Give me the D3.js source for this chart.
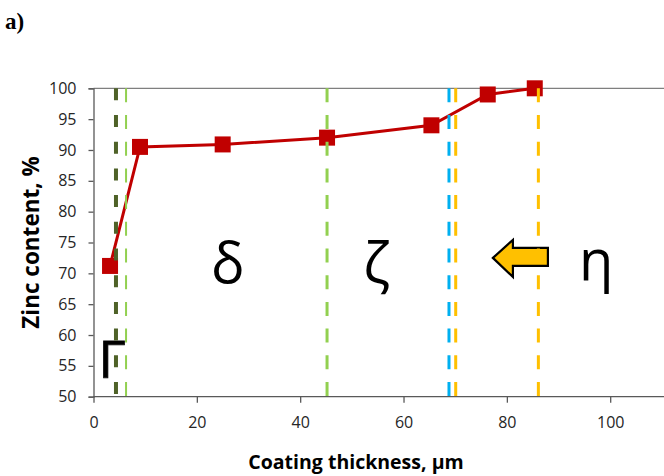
<!DOCTYPE html>
<html><head><meta charset="utf-8">
<script src="https://cdn.jsdelivr.net/npm/d3@7"></script>
<style>
html,body{margin:0;padding:0;background:#fff;}
svg{display:block;}
</style></head>
<body>
<svg id="c" width="664" height="476"></svg>
<script>
// ---- data ----
const thickness = [3.2, 9.0, 25.0, 45.2, 65.4, 76.3, 85.4];
const zinc = [71.2, 90.5, 90.9, 92.0, 94.0, 99.0, 100.0];
const xTicks = [0, 20, 40, 60, 80, 100];
const yTicks = [50, 55, 60, 65, 70, 75, 80, 85, 90, 95, 100];
const boundaryX = [4.35, 6.3, 45.2, 68.8, 70.1, 86.1];
const boundaryColor = ["#4f6228", "#92d050", "#92d050", "#00b0f0", "#ffc000", "#ffc000"];
const boundaryWidth = [4, 2, 3, 3, 3, 3];
const phaseLabels = ["Γ", "δ", "ζ", "η"];
const phaseX = [3.6, 26.0, 54.8, 97.3];
const phaseY = [53.1, 68.4, 68.4, 68.9];

const svg = d3.select("#c");
const x = d3.scaleLinear().domain([0, 100]).range([93.5, 610.2]);
const y = d3.scaleLinear().domain([50, 100]).range([396.7, 88.3]);

// title
svg.append("text").attr("x", 5).attr("y", 29)
  .attr("font-family", "'Liberation Serif', 'Times New Roman', serif")
  .attr("font-weight", "bold").attr("font-size", 23).attr("fill", "#000").text("a)");

// top border
svg.append("line").attr("x1", x(0)).attr("x2", 664).attr("y1", y(100)).attr("y2", y(100))
  .attr("stroke", "#7f7f7f").attr("stroke-width", 1.3);

// y axis
const ya = svg.append("g").attr("transform", `translate(${x(0)},0)`)
  .call(d3.axisLeft(y).tickValues(yTicks).tickSize(5).tickPadding(12));
ya.select(".domain").attr("stroke", "#595959").attr("stroke-width", 1.3);
ya.selectAll(".tick line").attr("stroke", "#595959").attr("stroke-width", 1.3);
ya.selectAll(".tick text").attr("font-family", "'Open Sans', sans-serif")
  .attr("font-size", 16).attr("fill", "#262626");

// x axis
const xa = svg.append("g").attr("transform", `translate(0,${y(50)})`)
  .call(d3.axisBottom(x).tickValues(xTicks).tickSize(6).tickPadding(14).tickSizeOuter(0));
xa.select(".domain").remove();
xa.append("line").attr("x1", x(0)).attr("x2", 664).attr("y1", 0).attr("y2", 0)
  .attr("stroke", "#595959").attr("stroke-width", 1.3);
xa.selectAll(".tick line").attr("stroke", "#595959").attr("stroke-width", 1.3);
xa.selectAll(".tick text").attr("font-family", "'Open Sans', sans-serif")
  .attr("font-size", 16).attr("fill", "#262626");

// axis titles
svg.append("text").attr("transform", `translate(30,${(y(50)+y(100))/2}) rotate(-90)`)
  .attr("text-anchor", "middle").attr("dominant-baseline", "central")
  .attr("font-family", "'Open Sans', sans-serif").attr("font-weight", "bold")
  .attr("font-size", 22.5).attr("fill", "#000").text("Zinc content, %");
svg.append("text").attr("x", 356).attr("y", 469).attr("text-anchor", "middle")
  .attr("font-family", "'Open Sans', sans-serif").attr("font-weight", "bold")
  .attr("font-size", 19.5).attr("fill", "#000").text("Coating thickness, µm");

// data line
const pts = thickness.map((t, i) => [t, zinc[i]]);
svg.append("path").datum(pts)
  .attr("d", d3.line().x(d => x(d[0])).y(d => y(d[1])))
  .attr("fill", "none").attr("stroke", "#c00000").attr("stroke-width", 3);
svg.selectAll("rect.m").data(pts).join("rect").attr("class", "m")
  .attr("x", d => x(d[0]) - 8).attr("y", d => y(d[1]) - 8)
  .attr("width", 16).attr("height", 16).attr("fill", "#c00000");

// phase labels
phaseLabels.forEach((lab, i) => {
  svg.append("text").attr("x", x(phaseX[i])).attr("y", y(phaseY[i]))
    .attr("text-anchor", "middle")
    .attr("font-family", "'Open Sans', sans-serif")
    .attr("font-size", i === 0 ? 52 : 56).attr("fill", "#000")
    .attr("stroke", i === 0 ? "#000" : "none").attr("stroke-width", 0.8)
    .text(lab);
});

// arrow (anchored at its tip, in data units)
const tip = [x(77.3), y(72.5)];
const arrowPts = [[0,0],[20,-18],[20,-10],[55,-10],[55,8],[20,8],[20,19]];
svg.append("path")
  .attr("d", "M" + arrowPts.map(p => [tip[0]+p[0], tip[1]+p[1]].join(",")).join("L") + "Z")
  .attr("fill", "#ffc000").attr("stroke", "#000").attr("stroke-width", 2.2)
  .attr("stroke-linejoin", "miter");

// phase boundaries
svg.selectAll("line.b").data(boundaryX).join("line").attr("class", "b")
  .attr("x1", d => x(d)).attr("x2", d => x(d))
  .attr("y1", y(100)).attr("y2", y(50))
  .attr("stroke", (d, i) => boundaryColor[i])
  .attr("stroke-width", (d, i) => boundaryWidth[i])
  .attr("stroke-dasharray", (d, i) => i === 0 ? "12,14.7" : "14,12.7");
</script>
</body></html>
